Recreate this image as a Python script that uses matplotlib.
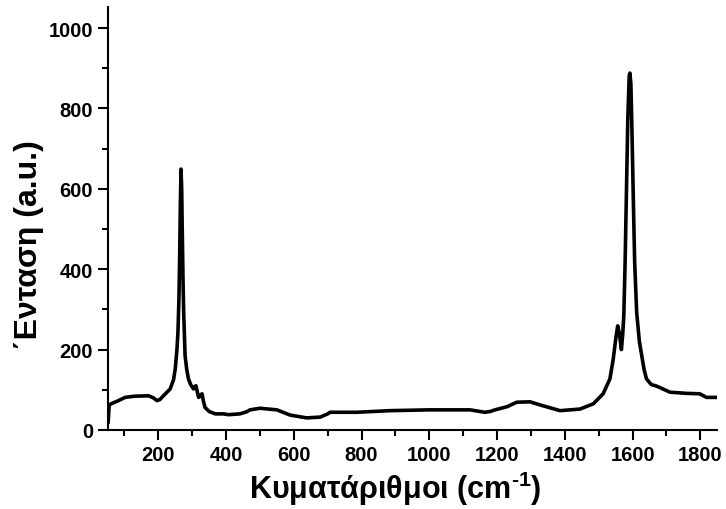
import numpy as np
import matplotlib.pyplot as plt
from matplotlib.ticker import MultipleLocator

# Raman spectrum (wavenumber cm-1, intensity a.u.)
wavenumber = [52, 55, 63, 80, 102, 130, 172, 185, 196, 205, 215, 235, 245,
              250, 255, 258, 261, 263, 265, 267, 269, 271, 273, 275, 279,
              284, 289, 296, 304, 308, 311, 315, 319, 324, 329, 333, 338,
              350, 368, 393, 407, 441, 460, 471, 500, 550, 589, 638, 678,
              700, 707, 786, 884, 1000, 1051, 1120, 1164, 1180, 1194, 1230,
              1258, 1297, 1336, 1386, 1445, 1484, 1513, 1533, 1543, 1550,
              1556, 1561, 1567, 1571, 1574, 1578, 1582, 1586, 1590, 1592,
              1595, 1598, 1602, 1606, 1612, 1620, 1627, 1634, 1641, 1655,
              1671, 1700, 1710, 1760, 1798, 1818, 1843, 1850]
intensity = [20, 62, 66, 72, 81, 84, 85, 80, 73, 76, 85, 102, 125,
             152, 200, 244, 330, 430, 560, 649, 600, 480, 370, 290, 185,
             150, 127, 112, 102, 108, 110, 95, 81, 86, 90, 72, 56,
             46, 40, 40, 38, 40, 45, 50, 54, 50, 37, 30, 32,
             40, 44, 44, 48, 50, 50, 50, 44, 46, 50, 58,
             69, 70, 60, 48, 52, 65, 90, 127, 177, 225,
             259, 240, 200, 240, 284, 420, 600, 780, 880, 888,
             860, 750, 580, 420, 293, 220, 185, 150, 127, 113,
             109, 98, 94, 91, 90, 81, 81, 81]

xticks = [200, 400, 600, 800, 1000, 1200, 1400, 1600, 1800]
yticks = [0, 200, 400, 600, 800, 1000]

plt.rcParams['font.family'] = ['Liberation Sans', 'DejaVu Sans']
plt.rcParams['font.weight'] = 'bold'
plt.rcParams['mathtext.fontset'] = 'custom'
plt.rcParams['mathtext.rm'] = 'Liberation Sans:bold'
plt.rcParams['mathtext.default'] = 'rm'

fig = plt.figure(figsize=(7.26, 5.1), dpi=100)
ax = fig.add_axes([0.149, 0.155, 0.839, 0.829])
ax.plot(wavenumber, intensity, color='black', lw=2.6, solid_joinstyle='round')

ax.set_xlim(52, 1850)
ax.set_ylim(0, 1052)
ax.set_xticks(xticks)
ax.set_yticks(yticks)
ax.xaxis.set_minor_locator(MultipleLocator(100))
ax.yaxis.set_minor_locator(MultipleLocator(100))
ax.tick_params(which='major', direction='out', length=7, width=1.5, labelsize=14.5, pad=4)
ax.tick_params(which='minor', direction='out', length=4, width=1.5)
for lab in ax.get_xticklabels() + ax.get_yticklabels():
    lab.set_fontweight('bold')

ax.spines['top'].set_visible(False)
ax.spines['right'].set_visible(False)
ax.spines['left'].set_linewidth(1.5)
ax.spines['bottom'].set_linewidth(1.5)

ax.set_xlabel('Κυματάριθμοι (cm$^{\\text{-1}}$)', fontsize=22, fontweight='bold')
ax.set_ylabel('΄Ενταση (a.u.)', fontsize=23, fontweight='bold')
ax.xaxis.set_label_coords(0.471, -0.092)
ax.yaxis.set_label_coords(-0.105, 0.44)

fig.savefig('out.png', dpi=100)
